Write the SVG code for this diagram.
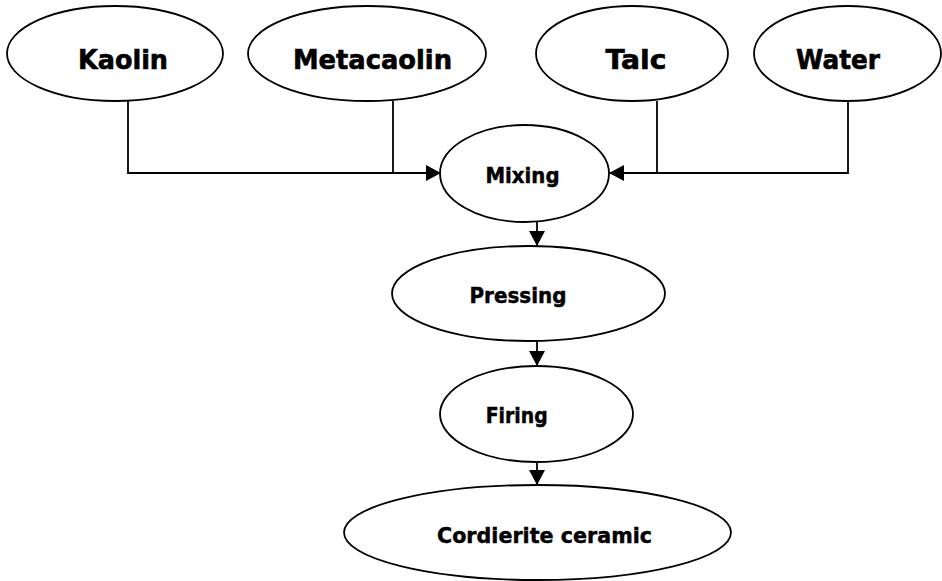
<svg xmlns="http://www.w3.org/2000/svg" width="942" height="581" viewBox="0 0 942 581">
<style>
  .n ellipse { fill: #fff; stroke: #000; stroke-width: 1.8; }
  .n text { font-family: "DejaVu Sans", "Liberation Sans", sans-serif; font-weight: bold; fill: #000; stroke: #000; text-anchor: middle; }
  .big { font-size: 26px; stroke-width: 0.6px; }
  .mid { font-size: 21px; stroke-width: 0.45px; }
  .c path { fill: none; stroke: #000; stroke-width: 1.8; }
</style>
<defs>
  <marker id="arr" markerUnits="userSpaceOnUse" markerWidth="16" markerHeight="16" refX="15" refY="8" orient="auto">
    <path d="M0,0 L15,8 L0,16 z" fill="#000"/>
  </marker>
</defs>
<rect width="942" height="581" fill="#fff"/>
<g class="c" id="connectors">
  <path d="M128,101 V173 H441" marker-end="url(#arr)"/>
  <path d="M393,101 V173"/>
  <path d="M848,101 V173 H609" marker-end="url(#arr)"/>
  <path d="M657,101 V173"/>
  <path d="M537,222 V246" marker-end="url(#arr)"/>
  <path d="M537,341 V366" marker-end="url(#arr)"/>
  <path d="M537,462 V485" marker-end="url(#arr)"/>
</g>
<g class="n" id="kaolin">
  <ellipse cx="115" cy="53.5" rx="108" ry="47.5"/>
  <text class="big" x="123" y="69" textLength="90" lengthAdjust="spacingAndGlyphs">Kaolin</text>
</g>
<g class="n" id="metacaolin">
  <ellipse cx="367" cy="53.5" rx="119" ry="47.5"/>
  <text class="big" x="372.5" y="69" textLength="159" lengthAdjust="spacingAndGlyphs">Metacaolin</text>
</g>
<g class="n" id="talc">
  <ellipse cx="632" cy="53.5" rx="96" ry="47.5"/>
  <text class="big" x="636" y="69" textLength="61" lengthAdjust="spacingAndGlyphs">Talc</text>
</g>
<g class="n" id="water">
  <ellipse cx="847.5" cy="53.5" rx="93.5" ry="47.5"/>
  <text class="big" x="838" y="69" textLength="84" lengthAdjust="spacingAndGlyphs">Water</text>
</g>
<g class="n" id="mixing">
  <ellipse cx="524.5" cy="173.5" rx="84.5" ry="48.5"/>
  <text class="mid" x="522.5" y="183.3" textLength="74" lengthAdjust="spacingAndGlyphs">Mixing</text>
</g>
<g class="n" id="pressing">
  <ellipse cx="528.5" cy="293.5" rx="136.5" ry="47.5"/>
  <text class="mid" x="518" y="303.3" textLength="97" lengthAdjust="spacingAndGlyphs">Pressing</text>
</g>
<g class="n" id="firing">
  <ellipse cx="536.5" cy="414" rx="96.5" ry="48"/>
  <text class="mid" x="516.7" y="423.3" textLength="62" lengthAdjust="spacingAndGlyphs">Firing</text>
</g>
<g class="n" id="cordierite">
  <ellipse cx="537.5" cy="532.5" rx="193.5" ry="47.5"/>
  <text class="mid" x="544.5" y="542.7" textLength="215" lengthAdjust="spacingAndGlyphs">Cordierite ceramic</text>
</g>
</svg>
